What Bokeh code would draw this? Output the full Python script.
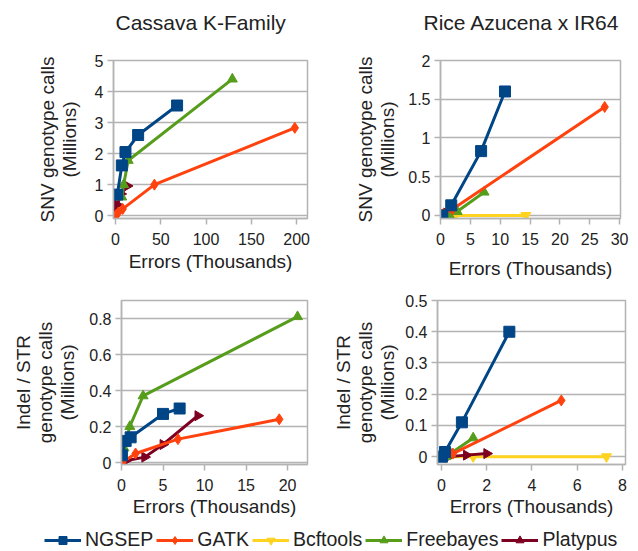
import numpy as np
from bokeh.plotting import figure
from bokeh.layouts import column, row
from bokeh.models import (FixedTicker, CustomJSTickFormatter, Legend, LegendItem, Range1d,
                          Title)
from bokeh.embed import file_html
from bokeh.resources import INLINE

FONT = "Liberation Sans"
GRID = "#b3b3b3"
TXT = "#222222"

series = ["NGSEP", "GATK", "Bcftools", "Freebayes", "Platypus"]
colors = {"NGSEP": "#004586", "GATK": "#ff420e", "Bcftools": "#ffd320",
          "Freebayes": "#579d1c", "Platypus": "#7e0021"}
markers = {"NGSEP": "square", "GATK": "diamond", "Bcftools": "inverted_triangle",
           "Freebayes": "triangle", "Platypus": "triangle"}
msize = {"NGSEP": 11, "GATK": 11, "Bcftools": 10, "Freebayes": 10, "Platypus": 10}
mangle = {"NGSEP": 0, "GATK": 0, "Bcftools": 0, "Freebayes": 0, "Platypus": -np.pi / 2}
draw_order = ["Bcftools", "Platypus", "Freebayes", "GATK", "NGSEP"]

# Cassava K-Family, SNV (x: thousands of errors, y: millions of calls)
cassava_snv_ngsep_x = [2, 7, 11, 25, 68]
cassava_snv_ngsep_y = [0.68, 1.62, 2.05, 2.6, 3.55]
cassava_snv_gatk_x = [0.5, 3, 8, 43, 198]
cassava_snv_gatk_y = [0.02, 0.1, 0.22, 1.0, 2.83]
cassava_snv_bcftools_x = [0.3, 1.5]
cassava_snv_bcftools_y = [0.05, 0.15]
cassava_snv_freebayes_x = [7, 9, 14, 129]
cassava_snv_freebayes_y = [0.6, 1.0, 1.78, 4.4]
cassava_snv_platypus_x = [0.5, 2, 6, 13]
cassava_snv_platypus_y = [0.1, 0.35, 0.7, 0.96]

# Rice Azucena x IR64, SNV
rice_snv_ngsep_x = [0.3, 1.8, 6.8, 10.8]
rice_snv_ngsep_y = [0.0, 0.13, 0.83, 1.6]
rice_snv_gatk_x = [0.5, 2, 27.5]
rice_snv_gatk_y = [0.02, 0.08, 1.4]
rice_snv_bcftools_x = [1, 2.5, 14.3]
rice_snv_bcftools_y = [0, 0, 0]
rice_snv_freebayes_x = [1.5, 2.8, 7.3]
rice_snv_freebayes_y = [0.0, 0.05, 0.3]
rice_snv_platypus_x = [0.5, 1]
rice_snv_platypus_y = [0.01, 0.03]

# Cassava K-Family, Indel / STR
cassava_indel_ngsep_x = [0.05, 0.5, 1.1, 5.0, 7.0]
cassava_indel_ngsep_y = [0.04, 0.12, 0.14, 0.27, 0.3]
cassava_indel_gatk_x = [0.1, 1.7, 6.8, 19]
cassava_indel_gatk_y = [0.0, 0.05, 0.13, 0.24]
cassava_indel_bcftools_x = [0.05, 0.3]
cassava_indel_bcftools_y = [0.0, 0.01]
cassava_indel_freebayes_x = [0.3, 1.0, 2.6, 21.2]
cassava_indel_freebayes_y = [0.08, 0.2, 0.37, 0.81]
cassava_indel_platypus_x = [0.5, 2.8, 5.0, 9.2]
cassava_indel_platypus_y = [0.01, 0.03, 0.1, 0.26]

# Rice Azucena x IR64, Indel / STR
rice_indel_ngsep_x = [0.02, 0.15, 0.9, 3.0]
rice_indel_ngsep_y = [0.0, 0.015, 0.11, 0.4]
rice_indel_gatk_x = [0.1, 0.5, 5.3]
rice_indel_gatk_y = [0.0, 0.01, 0.18]
rice_indel_bcftools_x = [0.2, 1.4, 7.3]
rice_indel_bcftools_y = [0, 0, 0]
rice_indel_freebayes_x = [0.2, 0.4, 1.4]
rice_indel_freebayes_y = [0.0, 0.01, 0.06]
rice_indel_platypus_x = [0.3, 1.1, 2.0]
rice_indel_platypus_y = [0.0, 0.005, 0.01]

titles = ["Cassava K-Family", "Rice Azucena x IR64"]
xlabel = "Errors (Thousands)"
ylabel_snv = "SNV genotype calls\n(Millions)"
ylabel_indel = "Indel / STR\ngenotype calls\n(Millions)"

ticks_x_cassava_snv = [0, 50, 100, 150, 200]
ticks_y_cassava_snv = [0, 1, 2, 3, 4, 5]
ticks_x_rice_snv = [0, 5, 10, 15, 20, 25, 30]
ticks_y_rice_snv = [0, 0.5, 1, 1.5, 2]
ticks_x_cassava_indel = [0, 5, 10, 15, 20]
ticks_y_cassava_indel = [0, 0.2, 0.4, 0.6, 0.8]
ticks_x_rice_indel = [0, 2, 4, 6, 8]
ticks_y_rice_indel = [0, 0.1, 0.2, 0.3, 0.4, 0.5]

fmt = CustomJSTickFormatter(code="return String(Math.round(tick*1000)/1000);")


def panel(data, xr, yr, xt, yt, width, height, borders, ylabel, ylab_standoff,
          xlab_standoff, title=None, title_offset=0):
    p = figure(width=width, height=height, output_backend="svg", toolbar_location=None,
               x_range=Range1d(*xr), y_range=Range1d(*yr),
               min_border_left=borders[0], min_border_right=borders[1],
               min_border_top=borders[2], min_border_bottom=borders[3])
    if title:
        # blank spacer between frame and title pushes the title upward
        p.add_layout(Title(text=" ", text_font_size="14px", standoff=4), "above")
        p.title.text = title
        p.title.text_font = FONT
        p.title.text_font_size = "21px"
        p.title.text_font_style = "normal"
        p.title.text_color = TXT
        p.title.align = "left"
        p.title.offset = title_offset
    p.outline_line_color = GRID
    p.outline_line_width = 1.5
    p.background_fill_color = "white"
    p.border_fill_color = "white"
    p.xgrid.visible = False
    p.ygrid.grid_line_color = GRID
    p.ygrid.grid_line_width = 1.5
    for ax, ticks in ((p.xaxis[0], xt), (p.yaxis[0], yt)):
        ax.ticker = FixedTicker(ticks=ticks)
        ax.formatter = fmt
        ax.axis_line_color = GRID
        ax.axis_line_width = 1.5
        ax.major_tick_line_color = GRID
        ax.major_tick_line_width = 1.5
        ax.major_tick_in = 0
        ax.major_tick_out = 6
        ax.minor_tick_line_color = None
        ax.major_label_text_font = FONT
        ax.major_label_text_font_size = "16px"
        ax.major_label_text_color = TXT
        ax.axis_label_text_font = FONT
        ax.axis_label_text_font_size = "19px"
        ax.axis_label_text_font_style = "normal"
        ax.axis_label_text_color = TXT
        ax.axis_label_text_line_height = 1.05
    p.xaxis.major_label_standoff = 8
    p.yaxis.major_label_standoff = 4
    p.xaxis.axis_label = xlabel
    p.yaxis.axis_label = ylabel
    p.yaxis.axis_label_standoff = ylab_standoff
    p.xaxis.axis_label_standoff = xlab_standoff
    for s in draw_order:
        xs, ys = data[s]
        p.line(xs, ys, line_color=colors[s], line_width=3)
        p.scatter(xs, ys, marker=markers[s], size=msize[s], angle=mangle[s],
                  fill_color=colors[s], line_color=colors[s])
    return p


d1 = {"NGSEP": (cassava_snv_ngsep_x, cassava_snv_ngsep_y),
      "GATK": (cassava_snv_gatk_x, cassava_snv_gatk_y),
      "Bcftools": (cassava_snv_bcftools_x, cassava_snv_bcftools_y),
      "Freebayes": (cassava_snv_freebayes_x, cassava_snv_freebayes_y),
      "Platypus": (cassava_snv_platypus_x, cassava_snv_platypus_y)}
d2 = {"NGSEP": (rice_snv_ngsep_x, rice_snv_ngsep_y),
      "GATK": (rice_snv_gatk_x, rice_snv_gatk_y),
      "Bcftools": (rice_snv_bcftools_x, rice_snv_bcftools_y),
      "Freebayes": (rice_snv_freebayes_x, rice_snv_freebayes_y),
      "Platypus": (rice_snv_platypus_x, rice_snv_platypus_y)}
d3 = {"NGSEP": (cassava_indel_ngsep_x, cassava_indel_ngsep_y),
      "GATK": (cassava_indel_gatk_x, cassava_indel_gatk_y),
      "Bcftools": (cassava_indel_bcftools_x, cassava_indel_bcftools_y),
      "Freebayes": (cassava_indel_freebayes_x, cassava_indel_freebayes_y),
      "Platypus": (cassava_indel_platypus_x, cassava_indel_platypus_y)}
d4 = {"NGSEP": (rice_indel_ngsep_x, rice_indel_ngsep_y),
      "GATK": (rice_indel_gatk_x, rice_indel_gatk_y),
      "Bcftools": (rice_indel_bcftools_x, rice_indel_bcftools_y),
      "Freebayes": (rice_indel_freebayes_x, rice_indel_freebayes_y),
      "Platypus": (rice_indel_platypus_x, rice_indel_platypus_y)}

p1 = panel(d1, (-2.2, 212), (-0.09, 5), ticks_x_cassava_snv, ticks_y_cassava_snv,
           318, 281, (113, 11, 60, 62), ylabel_snv, 12, 3, titles[0], 2)
p2 = panel(d2, (0, 30.15), (-0.04, 2), ticks_x_rice_snv, ticks_y_rice_snv,
           320, 281, (122, 18, 60, 62), ylabel_snv, 7, 10, titles[1], -17)
p3 = panel(d3, (0, 22.4), (-0.011, 0.9), ticks_x_cassava_indel, ticks_y_cassava_indel,
           318, 239, (121, 11, 19, 56), ylabel_indel, 8, 2)
p4 = panel(d4, (-0.18, 8.14), (-0.025, 0.5), ticks_x_rice_indel, ticks_y_rice_indel,
           320, 239, (119, 13, 19, 56), ylabel_indel, 4, 2)

# legend strip
lg = figure(width=638, height=31, output_backend="svg", toolbar_location=None,
            x_range=Range1d(0, 1), y_range=Range1d(0, 1), x_axis_type=None, y_axis_type=None,
            min_border=0)
lg.outline_line_color = None
lg.xgrid.visible = False
lg.ygrid.visible = False
items = []
for s in series:
    l = lg.line([-10, -9], [-10, -9], line_color=colors[s], line_width=3)
    m = lg.scatter([-10], [-10], marker=markers[s], size=msize[s], angle=mangle[s],
                   fill_color=colors[s], line_color=colors[s])
    items.append(LegendItem(label=s, renderers=[l, m]))
leg = Legend(items=items, orientation="horizontal", location=(44, 0),
             label_text_font=FONT, label_text_font_size="19.5px", label_text_color=TXT,
             glyph_width=37, glyph_height=20, label_standoff=4, spacing=3, padding=0,
             margin=0, border_line_color=None, background_fill_alpha=0)
lg.add_layout(leg, "center")

layout = column(row(p1, p2), row(p3, p4), lg)
open("out.html", "w").write(file_html(layout, INLINE))
